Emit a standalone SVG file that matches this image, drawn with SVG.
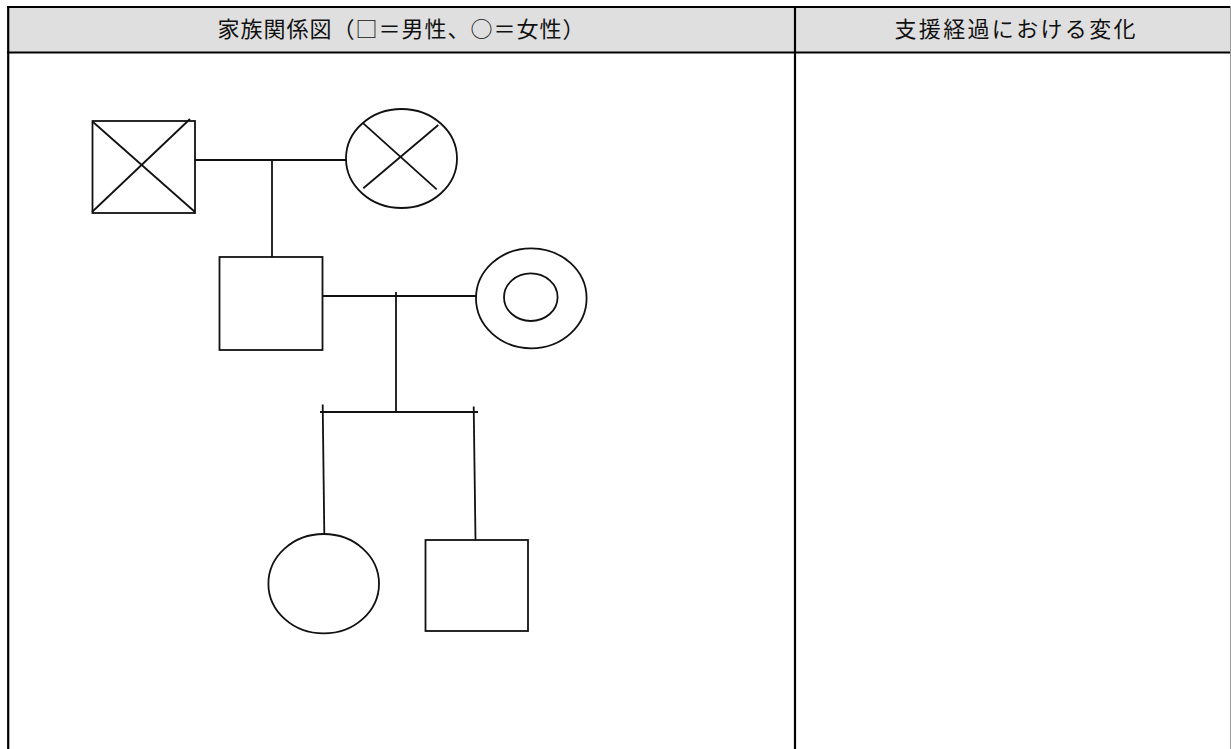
<svg xmlns="http://www.w3.org/2000/svg" width="1231" height="749" viewBox="0 0 1231 749">
  <style>
    .hdr { fill: #dfdfdf; }
    .tline { stroke: #000; stroke-width: 2.2; fill: none; }
    .htext { font-family: "Noto Sans CJK JP", "Noto Sans", sans-serif; font-size: 22px; font-weight: 400; fill: #111; text-anchor: middle; }
    .sym { fill: #fff; stroke: #111; stroke-width: 1.8; }
    .ln { stroke: #111; stroke-width: 1.8; fill: none; stroke-linecap: butt; }
  </style>
  <rect x="0" y="0" width="1231" height="749" fill="#fff"/>
  <g id="table">
    <rect class="hdr" x="8" y="7" width="1222" height="45"/>
    <line class="tline" x1="7" y1="7" x2="1231" y2="7"/>
    <line class="tline" x1="7" y1="52.5" x2="1231" y2="52.5"/>
    <line class="tline" x1="8.2" y1="6" x2="8.2" y2="749"/>
    <line class="tline" x1="795" y1="6" x2="795" y2="749"/>
    <line x1="1230.5" y1="6" x2="1230.5" y2="749" stroke="#999" stroke-width="1"/>
    <text class="htext" x="401" y="37" textLength="367" lengthAdjust="spacing">家族関係図（□＝男性、○＝女性）</text>
    <text class="htext" x="1015" y="37" textLength="241" lengthAdjust="spacing">支援経過における変化</text>
  </g>
  <g id="connectors">
    <line class="ln" x1="194" y1="160" x2="346" y2="160"/>
    <line class="ln" x1="272" y1="160" x2="272" y2="257"/>
    <line class="ln" x1="321" y1="296" x2="476" y2="296"/>
    <line class="ln" x1="396" y1="292" x2="396" y2="412"/>
    <line class="ln" x1="320" y1="412" x2="478" y2="412"/>
    <line class="ln" x1="322.7" y1="404.5" x2="324.3" y2="534"/>
    <line class="ln" x1="473.7" y1="406.5" x2="475.5" y2="540"/>
  </g>
  <g id="grandfather">
    <rect class="sym" x="92.5" y="121" width="102.5" height="92"/>
    <line class="ln" x1="93" y1="122" x2="195" y2="212"/>
    <line class="ln" x1="190" y1="119" x2="92" y2="212"/>
  </g>
  <g id="grandmother">
    <ellipse class="sym" cx="401.5" cy="158.5" rx="55.5" ry="49.5"/>
    <line class="ln" x1="363.3" y1="123.3" x2="436.7" y2="189.3"/>
    <line class="ln" x1="438.3" y1="125" x2="363.3" y2="188.3"/>
  </g>
  <g id="father">
    <rect class="sym" x="219.5" y="257" width="103" height="93"/>
  </g>
  <g id="mother">
    <ellipse class="sym" cx="531.3" cy="298.3" rx="55.3" ry="50"/>
    <ellipse class="sym" cx="530.8" cy="297.2" rx="26.8" ry="23.8"/>
  </g>
  <g id="daughter">
    <ellipse class="sym" cx="323.7" cy="583.7" rx="55.3" ry="49.7"/>
  </g>
  <g id="son">
    <rect class="sym" x="425.5" y="540" width="102.5" height="91"/>
  </g>
</svg>
